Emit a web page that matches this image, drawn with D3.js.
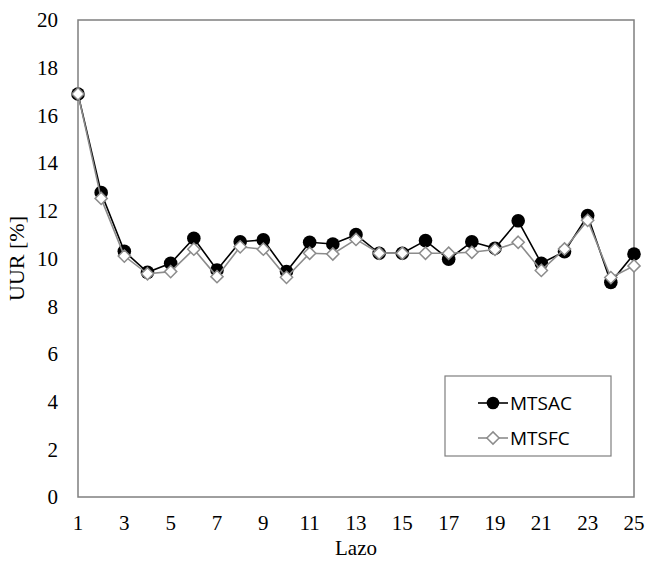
<!DOCTYPE html>
<html><head><meta charset="utf-8">
<script src="https://cdn.jsdelivr.net/npm/d3@7"></script>
<style>body{margin:0;background:#fff}svg{display:block}
.serif{font-family:"Liberation Serif","Tinos","Times New Roman","DejaVu Serif",serif}
.sans{font-family:"Open Sans","Liberation Sans",sans-serif}
</style>
</head><body>
<script>
const lazo = d3.range(1, 26);
const mtsac = [16.9,12.76,10.3,9.42,9.8,10.85,9.52,10.7,10.78,9.45,10.68,10.61,11.0,10.22,10.22,10.75,9.97,10.7,10.43,11.58,9.8,10.29,11.8,9.0,10.19];
const mtsfc = [16.9,12.52,10.1,9.36,9.45,10.39,9.24,10.49,10.39,9.21,10.22,10.19,10.8,10.22,10.22,10.22,10.22,10.26,10.38,10.68,9.5,10.4,11.6,9.2,9.69];
const xTicks = [1,3,5,7,9,11,13,15,17,19,21,23,25];
const yTicks = [0,2,4,6,8,10,12,14,16,18,20];
const seriesNames = ["MTSAC","MTSFC"];

const W=647,H=563;
const m={l:78,r:13,t:20,b:66};
const svg=d3.select("body").append("svg").attr("width",W).attr("height",H);
const x=d3.scaleLinear().domain([1,25]).range([m.l,W-m.r]);
const y=d3.scaleLinear().domain([0,20]).range([H-m.b,m.t]);

// plot box
svg.append("rect").attr("x",x(1)).attr("y",y(20)).attr("width",x(25)-x(1)).attr("height",y(0)-y(20))
  .attr("fill","none").attr("stroke","#7f7f7f").attr("stroke-width",1.5);

// y axis labels
svg.append("g").selectAll("text").data(yTicks).join("text").attr("class","serif")
  .attr("x",58).attr("y",d=>y(d)).attr("dy","0.35em").attr("text-anchor","end")
  .attr("font-size",21).attr("fill","#000").text(d=>d);
// x axis labels
svg.append("g").selectAll("text").data(xTicks).join("text").attr("class","serif")
  .attr("x",d=>x(d)).attr("y",523).attr("dy","0.35em").attr("text-anchor","middle")
  .attr("font-size",21).attr("fill","#000").text(d=>d);

svg.append("text").attr("class","serif").attr("x",(x(1)+x(25))/2).attr("y",555).attr("text-anchor","middle")
  .attr("font-size",21).text("Lazo");
svg.append("text").attr("class","serif").attr("transform",`translate(24,${(y(0)+y(20))/2}) rotate(-90)`).attr("text-anchor","middle")
  .attr("font-size",22).text("UUR [%]");

const line=d3.line().x((d,i)=>x(lazo[i])).y(d=>y(d));
const diamond=d3.symbol().type(d3.symbolDiamond2).size(95);

// MTSAC
svg.append("path").datum(mtsac).attr("d",line).attr("fill","none").attr("stroke","#000").attr("stroke-width",1.6);
svg.append("g").selectAll("circle").data(mtsac).join("circle")
  .attr("cx",(d,i)=>x(lazo[i])).attr("cy",d=>y(d)).attr("r",6.8).attr("fill","#000");
// MTSFC
svg.append("path").datum(mtsfc).attr("d",line).attr("fill","none").attr("stroke","#8c8c8c").attr("stroke-width",1.6);
svg.append("g").selectAll("path").data(mtsfc).join("path")
  .attr("d",diamond).attr("transform",(d,i)=>`translate(${x(lazo[i])},${y(d)})`)
  .attr("fill","#fff").attr("stroke","#8c8c8c").attr("stroke-width",1.5);

// legend
const lg=svg.append("g");
lg.append("rect").attr("x",445).attr("y",376).attr("width",166).attr("height",80)
  .attr("fill","#fff").attr("stroke","#7f7f7f").attr("stroke-width",1.2);
const rows=[{n:seriesNames[0],yy:403},{n:seriesNames[1],yy:438}];
lg.append("line").attr("x1",478).attr("x2",508).attr("y1",rows[0].yy).attr("y2",rows[0].yy).attr("stroke","#000").attr("stroke-width",1.6);
lg.append("circle").attr("cx",493).attr("cy",rows[0].yy).attr("r",6.3).attr("fill","#000");
lg.append("line").attr("x1",478).attr("x2",508).attr("y1",rows[1].yy).attr("y2",rows[1].yy).attr("stroke","#8c8c8c").attr("stroke-width",1.6);
lg.append("path").attr("d",diamond).attr("transform",`translate(493,${rows[1].yy})`).attr("fill","#fff").attr("stroke","#8c8c8c").attr("stroke-width",1.5);
lg.selectAll("text.l").data(rows).join("text").attr("class","sans").attr("x",510).attr("y",d=>d.yy).attr("dy","0.35em")
  .attr("font-size",19).attr("fill","#000").text(d=>d.n);
</script>
</body></html>
